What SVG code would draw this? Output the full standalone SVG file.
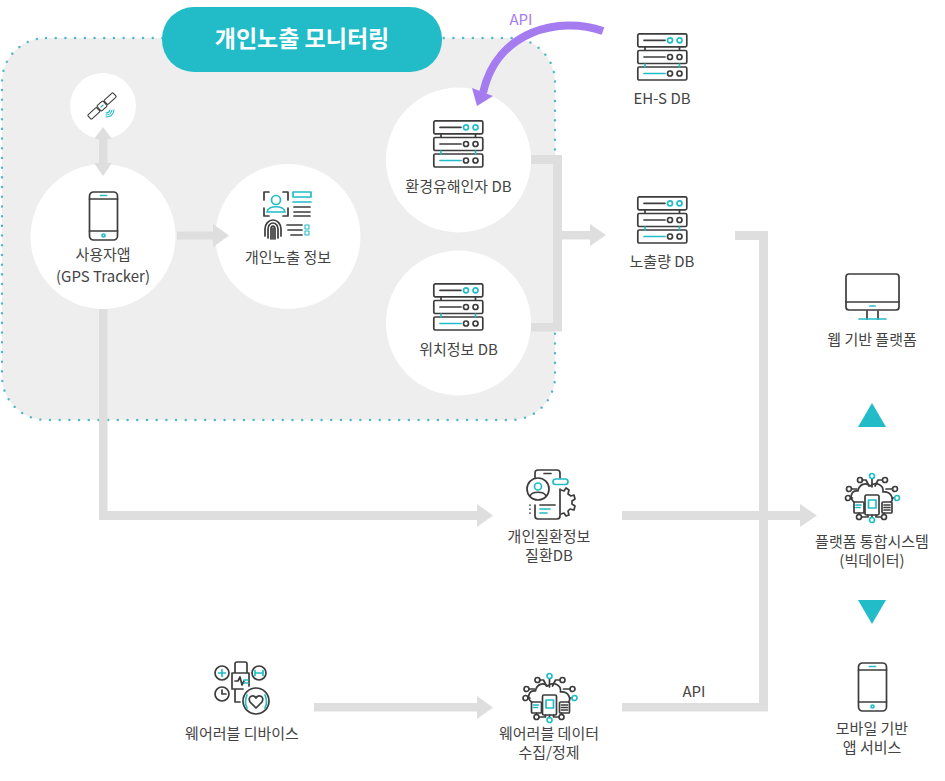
<svg xmlns="http://www.w3.org/2000/svg" width="945" height="781" viewBox="0 0 945 781">
<style>
text{font-family:"Noto Sans CJK KR","Noto Sans",sans-serif;font-size:15px;fill:#444;text-anchor:middle}
.d{fill:none;stroke:#3c3c3c;stroke-width:1.7;stroke-linecap:round;stroke-linejoin:round}
.t{fill:none;stroke:#21bcc8;stroke-width:1.7;stroke-linecap:round;stroke-linejoin:round}
.s{stroke-width:1.1}
.tf{fill:#21bcc8}
.c{fill:#dedede}
.w{fill:#fff}
</style>
<defs>
<symbol id="srv" overflow="visible" width="50" height="48" viewBox="0 0 50 48">
<rect class="d" x="0.8" y="0.8" width="49" height="13" rx="1.5"/><rect class="d" x="0.8" y="17.5" width="49" height="13" rx="1.5"/><rect class="d" x="0.8" y="34" width="49" height="13" rx="1.5"/>
<path class="d" d="M7 7.300H28M7 24H28"/><path class="t" d="M7 40.500H28"/>
<path class="d" d="M8 14V17M42.500 14V17"/><path class="t" d="M8 31V34M42.500 31V34"/>
<circle class="t" cx="33" cy="7.300" r="2.500"/><circle class="t" cx="42.500" cy="7.300" r="2.500"/>
<circle class="d" cx="33" cy="24" r="2.500"/><circle class="d" cx="42.500" cy="24" r="2.500"/>
<circle class="d" cx="33" cy="40.500" r="2.500"/><circle class="d" cx="42.500" cy="40.500" r="2.500"/>
</symbol>
<symbol id="phone" overflow="visible" width="30" height="50" viewBox="0 0 30 50">
<rect class="d" x="1" y="1" width="28" height="48" rx="4"/><path class="d" d="M1 8H29M1 40H29"/>
<path class="t" d="M12 4.500H18"/><circle class="t" cx="15" cy="44.500" r="1.500"/>
</symbol>
<symbol id="cloud" overflow="visible" width="60" height="60" viewBox="-30 -30 60 60">
<path class="d" d="M-18 5C-23 1-21-7-14-6C-13-13-6-15-2-11C4-16 12-12 11-5C19-6 22 2 19 5"/>
<path class="d" d="M0-18V-10M-10-17H-6L-3-11M10-17H6L3-11M-20.500-8H-15M-21.500 1H-19.500M22.500 1H20M20.500-8H14"/>
<path class="d" d="M-13 17.500V16M0 20.500V18M12 17.500V16M-4 18V20H-10M4 18V20H9"/>
<rect class="d" x="-18" y="5" width="10" height="11" rx="1"/><rect class="d" x="-7" y="-2" width="14" height="20" rx="1.500"/><rect class="d" x="10" y="5" width="10" height="11" rx="1"/>
<rect class="t" stroke-width="2" x="-3.500" y="3" width="7.500" height="8"/>
<path class="t" d="M-16 8H-11M-16 10.500H-12"/><path class="d" d="M12 8H18M12 10.500H18M12 13H18"/>
<circle class="t" cx="0" cy="-21" r="2.500"/><circle class="d" cx="-12" cy="-17" r="2.500"/><circle class="d" cx="13" cy="-17" r="2.500"/><circle class="d" cx="-23" cy="-8" r="2.500"/><circle class="d" cx="23" cy="-8" r="2.500"/><circle class="d" cx="-24" cy="1" r="2.500"/><circle class="t" cx="25" cy="1" r="2.500"/><circle class="d" cx="-13" cy="20" r="2.500"/><circle class="t" cx="0" cy="23" r="2.500"/><circle class="d" cx="12" cy="20" r="2.500"/>
</symbol>
</defs>

<g id="panel">
<rect x="2" y="38" width="553" height="382" rx="44" fill="#eeeeee" stroke="#4fb9c4" stroke-width="2.400" stroke-linecap="round" stroke-dasharray="0.1 9.600"/>
<rect x="162" y="7" width="280" height="65" rx="32" fill="#21bcc8"/>
<text x="302" y="47" style="font-size:23px;font-weight:700;fill:#fff">개인노출 모니터링</text>
</g>

<g id="node-satellite">
<circle class="w" cx="103" cy="106" r="33"/>
<g transform="translate(102 106) rotate(-42)"><rect class="d s" x="-4" y="-3.500" width="8" height="7" rx="1"/><rect class="d s" x="-17" y="-2.800" width="12" height="5.600" rx="1"/><rect class="d s" x="5" y="-2.800" width="12" height="5.600" rx="1"/><path class="t s" d="M-1.500 0H1.500"/></g>
<path class="t s" d="M106 117Q113 117 114 110M106 115Q111 115 112 110M106 113Q109 113 110 110"/>
</g>
<g id="node-app">
<circle class="w" cx="103" cy="236.500" r="72.500"/>
<use href="#phone" x="88.500" y="191"/>
<text x="103" y="260">사용자앱</text><text x="103" y="282">(GPS Tracker)</text>
</g>
<g id="node-personal">
<circle class="w" cx="288" cy="236.500" r="72.500"/>
<path class="d" d="M269 192H264V200M283 192H288V200M264 208V216H269M288 208V216H283"/>
<circle class="t" cx="276" cy="200" r="4.500"/><path class="t" d="M267 212C268 205 284 205 285 212Z"/>
<rect class="t" x="293" y="192" width="18" height="5"/><path class="t" d="M293 202H311"/><path class="d" d="M294 207H310M294 212H310M294 216H310"/>
<path class="d" stroke-width="1.300" d="M265 236V229A8 9 0 0 1 281 229V236M268 238V229A5 6 0 0 1 278 229V238M271 239V229A2 3 0 0 1 275 229V239M273 239V228"/>
<path class="d" d="M287 225H302M288 230H302M291 235H302"/><rect class="t s" x="305" y="225" width="4" height="4"/><rect class="t s" x="305" y="231" width="4" height="4"/>
<text x="288" y="263">개인노출 정보</text>
</g>
<g id="node-env-db">
<circle class="w" cx="458.500" cy="160" r="72.500"/>
<use href="#srv" x="433" y="120"/>
<text x="458.500" y="192">환경유해인자 DB</text>
</g>
<g id="node-location-db">
<circle class="w" cx="458.500" cy="323" r="72.500"/>
<use href="#srv" x="433" y="283"/>
<text x="458.500" y="355">위치정보 DB</text>
</g>
<g id="node-ehs-db"><use href="#srv" x="637" y="33"/><text x="662" y="104">EH-S DB</text></g>
<g id="node-exposure-db"><use href="#srv" x="637" y="196"/><text x="662" y="267">노출량 DB</text></g>
<g id="node-web">
<rect class="d" x="846" y="274" width="53" height="36" rx="3"/><path class="d" d="M846 302H899M867 311V319M878 311V319"/><path class="t" d="M859 319H886M870 306H875"/>
<text x="872" y="345">웹 기반 플랫폼</text>
</g>
<g id="node-platform"><use href="#cloud" x="842" y="467"/><text x="872" y="546.500">플랫폼 통합시스템<tspan x="872" dy="19">(빅데이터)</tspan></text></g>
<g id="node-mobile"><use href="#phone" x="857.500" y="662"/><text x="872" y="733.500">모바일 기반<tspan x="872" dy="19">앱 서비스</tspan></text></g>
<g id="node-disease-db">
<path class="d" d="M535 478V473Q535 470 538 470H557Q560 470 560 473V478M560 489V516Q560 519 557 519H538Q535 519 535 516V505"/><path class="d" d="M544 473.500H551"/>
<circle class="d" cx="538" cy="489" r="11"/><circle class="t" cx="538" cy="486.500" r="3.500"/><path class="d" d="M530 496C532 491 544 491 546 496"/>
<rect class="t" x="553" y="479" width="15" height="5.500" rx="2.700"/>
<path class="d" d="M561 490L564 491L566 488L569 490L568 494L571 496L574 495L575 499L572 501L572 504L575 506L574 510L570 509L568 511L569 515L566 516L564 513L561 514"/>
<path class="d" d="M540 505H555"/><path class="t" d="M540 509H550M540 513H547"/><path class="d" d="M530 505V505.100M530 509V509.100M530 513V513.100"/>
<text x="549" y="542">개인질환정보<tspan x="549" dy="19">질환DB</tspan></text>
</g>
<g id="node-wearable">
<path class="d" d="M235 673V664Q235 662 237 662H245Q247 662 247 664V673M235 689V702H240M232 673H249V686M232 673V689H243"/>
<path class="d" d="M235 681H238L240 677L242 685L244 681"/><path class="t" d="M244 680H248M244 683H248"/>
<circle class="d" cx="222" cy="673" r="7"/><path class="t" stroke-width="2.200" d="M218.500 673H225.500M222 669.500V676.500"/>
<circle class="d" cx="259" cy="673" r="7"/><path class="t" stroke-width="2.200" d="M255 673H263M255 670.500V675.500M263 670.500V675.500"/>
<circle class="d" cx="222" cy="694" r="7"/><path class="d" d="M222 690V694H226"/>
<circle class="d" cx="256" cy="701" r="13"/><path class="d" d="M256 708L250 702C247 696 254 694 256 698C258 694 265 696 262 702Z"/><path class="t" d="M247 695Q244 702 247 708M265 695Q268 702 265 708"/>
<text x="242" y="739">웨어러블 디바이스</text>
</g>
<g id="node-wearable-data"><use href="#cloud" x="519.500" y="667"/><text x="549" y="739">웨어러블 데이터<tspan x="549" dy="19">수집/정제</tspan></text></g>

<g id="connectors">
<path class="c" d="M103 127L112 139H107.500V163H112L103 176L94 163H99V139H94Z"/>
<path class="c" d="M177 231.500H213V224L229 235.500L213 247V239.500H177Z"/>
<path class="c" d="M531 155H562V231H590V224L606 235L590 246V239.500H562V331.500H531V323H553V164H531Z"/>
<path class="c" d="M99 309H107.500V511H477V504L493 515.500L477 527V520H99Z"/>
<path class="c" d="M622 511H800V504L817 515.500L800 527V520H622Z"/>
<path class="c" d="M735 231H768V711.500H622V703H759V240H735Z"/>
<path class="c" d="M314 703H477V696L493 707.500L477 719V711.500H314Z"/>
<path class="tf" d="M858 427H886L872 403Z"/>
<path class="tf" d="M858 600H886L872 624Z"/>
<path d="M603 31C560 16 497 30 483 93" fill="none" stroke="#a57cf0" stroke-width="8"/>
<path d="M472 88L493 96L477 106Z" fill="#a57cf0"/>
<text x="521" y="25" style="fill:#a57cf0">API</text>
<text x="694" y="697">API</text>
</g>
</svg>
